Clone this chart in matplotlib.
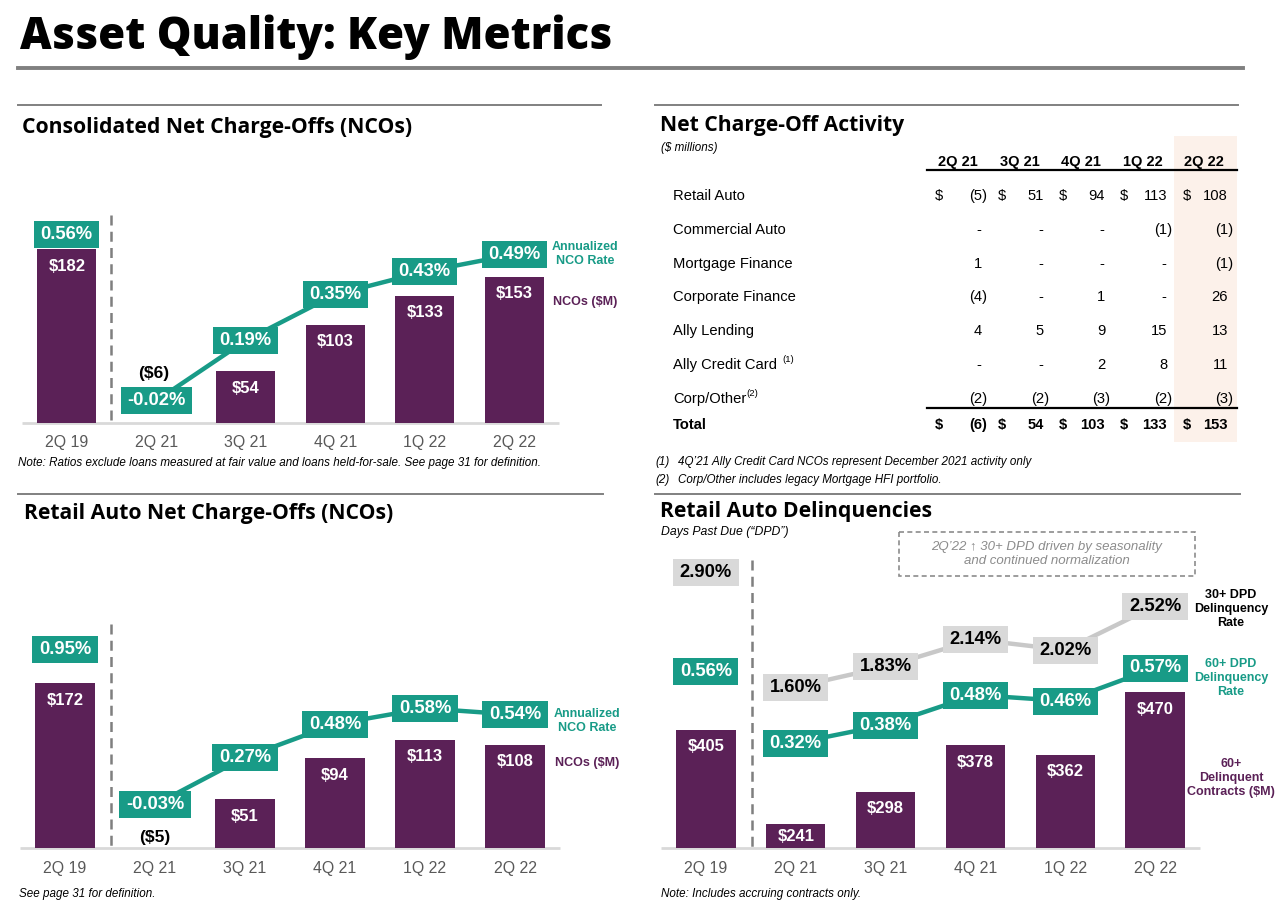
import matplotlib
matplotlib.use('Agg')
import matplotlib.pyplot as plt
from matplotlib.patches import Rectangle
from matplotlib.transforms import IdentityTransform

quarters = ['2Q 19', '2Q 21', '3Q 21', '4Q 21', '1Q 22', '2Q 22']

cons_nco = [182, -6, 54, 103, 133, 153]
cons_rate = [0.56, -0.02, 0.19, 0.35, 0.43, 0.49]

retail_nco = [172, -5, 51, 94, 113, 108]
retail_rate = [0.95, -0.03, 0.27, 0.48, 0.58, 0.54]

delinq_contracts = [405, 241, 298, 378, 362, 470]
dpd60_rate = [0.56, 0.32, 0.38, 0.48, 0.46, 0.57]
dpd30_rate = [2.90, 1.60, 1.83, 2.14, 2.02, 2.52]

table_cols = ['2Q 21', '3Q 21', '4Q 21', '1Q 22', '2Q 22']
retail_auto = [-5, 51, 94, 113, 108]
commercial_auto = [None, None, None, -1, -1]
mortgage_finance = [1, None, None, None, -1]
corporate_finance = [-4, None, 1, None, 26]
ally_lending = [4, 5, 9, 15, 13]
ally_credit_card = [None, None, 2, 8, 11]
corp_other = [-2, -2, -3, -2, -3]
total = [-6, 54, 103, 133, 153]
table_rows = [('Retail Auto', retail_auto, ''), ('Commercial Auto', commercial_auto, ''),
              ('Mortgage Finance', mortgage_finance, ''), ('Corporate Finance', corporate_finance, ''),
              ('Ally Lending', ally_lending, ''), ('Ally Credit Card', ally_credit_card, '(1)'),
              ('Corp/Other', corp_other, '(2)'), ('Total', total, '')]

PURPLE = '#5B2157'
TEAL = '#189B87'
GRAY_BOX = '#D9D9D9'
GRAY_LINE = '#C8C8C8'
TICK = '#595959'
HEAD = ['Open Sans', 'DejaVu Sans']
SANS = ['Liberation Sans', 'DejaVu Sans']

W, H = 1280, 909
fig = plt.figure(figsize=(12.8, 9.09), dpi=100)
fig.patch.set_facecolor('white')

ov = fig.add_axes([0, 0, 1, 1])
ov.set_xlim(0, W)
ov.set_ylim(H, 0)
ov.axis('off')

boxes = []


def px_axes(x0, y0, x1, y1):
    ax = fig.add_axes([x0 / W, 1 - y1 / H, (x1 - x0) / W, (y1 - y0) / H])
    ax.set_xlim(-0.5, len(quarters) - 0.5)
    ax.axis('off')
    return ax


def chart(x0, x1, ytop, ybase, bars, bar_base, bar_scale):
    ax = px_axes(x0, ytop, x1, ybase)
    ax.set_ylim(bar_base, bar_base + (ybase - ytop) / bar_scale)
    ax.bar(range(len(bars)), bars, width=0.66, color=PURPLE)
    for i, v in enumerate(bars):
        if v > 0:
            off = min(17, (v - bar_base) * bar_scale / 2)
            ax.annotate(f'${v}', (i, v), xytext=(0, -off), textcoords='offset pixels',
                        ha='center', va='center', color='white', fontsize=12,
                        fontweight='bold', family=SANS)
        ax.annotate(quarters[i], (i, bar_base), xytext=(0, -20), textcoords='offset pixels',
                    ha='center', va='center', color=TICK, fontsize=11.4, family=SANS)
    ov.plot([x0, x1], [ybase, ybase], color='#D9D9D9', lw=2, solid_capstyle='butt')
    return ax


def rate_line(x0, x1, ytop, ybase, rates, zero_px, scale, face, tcolor, lcolor):
    ax = px_axes(x0, ytop, x1, ybase)
    ax.set_ylim((zero_px - ybase) / scale, (zero_px - ytop) / scale)
    ax.plot(range(1, len(rates)), rates[1:], color=lcolor, lw=3.2, zorder=2)
    for i, r in enumerate(rates):
        t = ax.text(i, r, f'{r:.2f}%', ha='center', va='center', fontsize=13.2,
                    fontweight='bold', color=tcolor, family=SANS, zorder=5)
        boxes.append((t, ax, face))
    return ax


def sep(x, y0, y1):
    ov.plot([x, x], [y0, y1], color='#7F7F7F', lw=1.8, ls=(0, (4, 2.5)))


def legend(x, y, s, color):
    ov.text(x, y, s, color=color, fontsize=9, fontweight='bold', family=SANS,
            ha='center', va='center', linespacing=1.2)


# titles and rules
ov.text(20, 37, 'Asset Quality: Key Metrics', fontsize=31.4, fontweight='heavy', family=HEAD,
        va='center', ha='left')
ov.plot([18, 1243], [68, 68], color='#808080', lw=2.8)
for xa, xb, y in [(18, 601, 105), (655, 1238, 105), (18, 603, 494), (655, 1240, 494)]:
    ov.plot([xa, xb], [y, y], color='#808080', lw=1.4)
for x, y, s in [(22, 127, 'Consolidated Net Charge-Offs (NCOs)'),
                (660, 126, 'Net Charge-Off Activity'),
                (24, 514, 'Retail Auto Net Charge-Offs (NCOs)'),
                (660, 511, 'Retail Auto Delinquencies')]:
    ov.text(x, y, s, fontsize=15.2, fontweight='bold', family=HEAD, va='center')

# chart 1: consolidated NCOs
ax1 = chart(22, 559, 200, 423, cons_nco, 0, 0.955)
r1 = rate_line(22, 559, 200, 423, cons_rate, 395, 287, TEAL, 'white', TEAL)
r1.annotate(f'(${abs(cons_nco[1])})', (1, cons_rate[1]), xytext=(-3, 27),
            textcoords='offset pixels', ha='center', va='center', fontsize=12.5,
            fontweight='bold', family=SANS)
sep(111, 215, 423)
legend(585, 254, 'Annualized\nNCO Rate', TEAL)
legend(585, 302, 'NCOs ($M)', PURPLE)
ov.text(18, 463, 'Note: Ratios exclude loans measured at fair value and loans held-for-sale. '
        'See page 31 for definition.', fontsize=8.4, style='italic', family=SANS, va='center')

# chart 3: retail auto NCOs
ax3 = chart(20, 560, 610, 848, retail_nco, 0, 0.957)
r3 = rate_line(20, 560, 610, 848, retail_rate, 800, 158, TEAL, 'white', TEAL)
r3.annotate(f'(${abs(retail_nco[1])})', (1, retail_rate[1]), xytext=(0, -33),
            textcoords='offset pixels', ha='center', va='center', fontsize=12.5,
            fontweight='bold', family=SANS)
sep(111, 624, 848)
legend(587, 721, 'Annualized\nNCO Rate', TEAL)
legend(587, 763, 'NCOs ($M)', PURPLE)
ov.text(19, 894, 'See page 31 for definition.', fontsize=8.4, style='italic', family=SANS,
        va='center')

# chart 4: retail auto delinquencies
ax4 = chart(661, 1200, 540, 848, delinq_contracts, 200, 0.576)
r30 = rate_line(661, 1200, 540, 848, dpd30_rate, 827.8, 88, GRAY_BOX, 'black', GRAY_LINE)
r60 = rate_line(661, 1200, 540, 848, dpd60_rate, 839, 300, TEAL, 'white', TEAL)
sep(752, 560, 848)
ov.text(661, 532, 'Days Past Due (\u201cDPD\u201d)', fontsize=8.8, style='italic', family=SANS,
        va='center')
ov.add_patch(Rectangle((899, 532), 296, 44, fill=False, ec='#8C8C8C', lw=1.2,
                       ls=(0, (3, 2))))
ov.text(1047, 554, '2Q\u201922 \u2191 30+ DPD driven by seasonality\nand continued normalization',
        ha='center', va='center', fontsize=9.5, style='italic', color='#8C8C8C',
        family=SANS, linespacing=1.3)
legend(1231, 609, '30+ DPD\nDelinquency\nRate', 'black')
legend(1231, 678, '60+ DPD\nDelinquency\nRate', TEAL)
legend(1231, 778, '60+\nDelinquent\nContracts ($M)', PURPLE)
ov.text(661, 894, 'Note: Includes accruing contracts only.', fontsize=8.4, style='italic',
        family=SANS, va='center')

# table: net charge-off activity
ov.add_patch(Rectangle((1174, 136), 63, 306, color='#FCF1EA', lw=0))
ov.text(661, 148, '($ millions)', fontsize=8.4, style='italic', family=SANS, va='center')
dollar_x = [939, 1002, 1063, 1124, 1187]
paren_x = [987, 1049, 1110, 1172, 1233]
for j, c in enumerate(table_cols):
    ov.text(paren_x[j] - 29, 162, c, ha='center', va='center',
            fontsize=10.5, fontweight='bold', family=SANS)
ov.plot([927, 1237], [170, 170], color='black', lw=1.6)
ov.plot([927, 1237], [408, 408], color='black', lw=1.6)
renderer = fig.canvas.get_renderer()
for k, (name, vals, note) in enumerate(table_rows):
    y = 196 + 33.8 * k if name != 'Total' else 425
    weight = 'bold' if name == 'Total' else 'normal'
    t = ov.text(673, y, name, fontsize=10.6, fontweight=weight, family=SANS, va='center')
    if note:
        bb = t.get_window_extent(renderer=renderer)
        ov.text(bb.x1 + (5 if note == '(1)' else 0), y - 5, note, fontsize=6.8, family=SANS,
                va='center', ha='left')
    for j, v in enumerate(vals):
        if name in ('Retail Auto', 'Total'):
            ov.text(dollar_x[j], y, '$', fontsize=10.6, fontweight=weight, family=SANS,
                    ha='center', va='center')
        if v is None:
            s, xr = '-', paren_x[j] - 6
        elif v < 0:
            s, xr = f'({abs(v)})', paren_x[j]
        else:
            s, xr = f'{v}', paren_x[j] - 5
        ov.text(xr, y, s, fontsize=10.6, fontweight=weight, family=SANS, ha='right',
                va='center')
ov.text(655, 462, '(1)', fontsize=8.4, style='italic', family=SANS, va='center')
ov.text(678, 462, '4Q\u201921 Ally Credit Card NCOs represent December 2021 activity only',
        fontsize=8.4, style='italic', family=SANS, va='center')
ov.text(655, 480, '(2)', fontsize=8.4, style='italic', family=SANS, va='center')
ov.text(678, 480, 'Corp/Other includes legacy Mortgage HFI portfolio.', fontsize=8.4,
        style='italic', family=SANS, va='center')

# boxes behind the rate labels
for t, ax, face in boxes:
    bb = t.get_window_extent(renderer=renderer)
    ph = max(3, (27 - bb.height) / 2)
    ax.add_patch(Rectangle((bb.x0 - 6.5, bb.y0 - ph), bb.width + 13, bb.height + 2 * ph,
                           transform=IdentityTransform(), fc=face, ec='none', zorder=4,
                           clip_on=False))

fig.savefig('out.png', dpi=100)
